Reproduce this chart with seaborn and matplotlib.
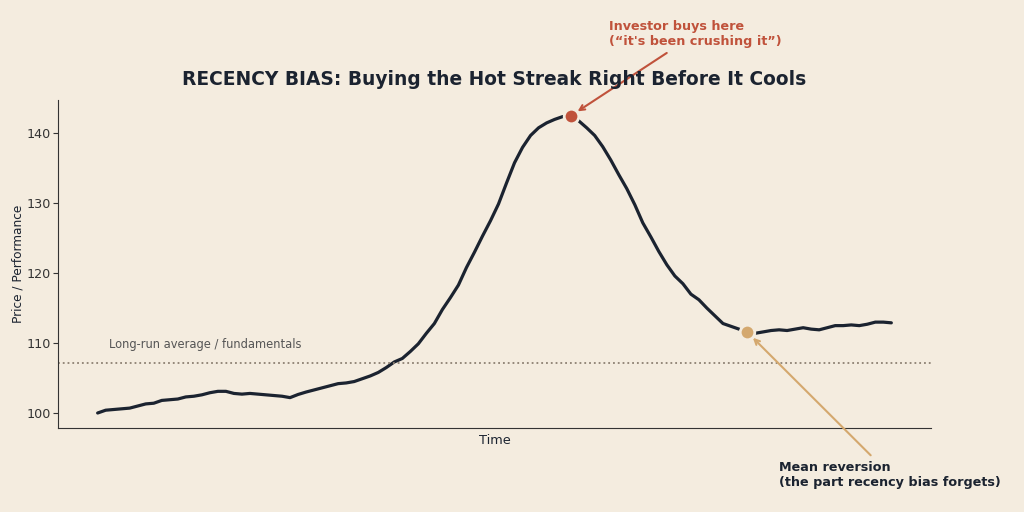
import pandas as pd
import seaborn as sns
import matplotlib.pyplot as plt

# price path (one value per time step)
price = [
    100.0, 100.4, 100.5, 100.6, 100.7, 101.0, 101.3, 101.4, 101.8, 101.9,
    102.0, 102.3, 102.4, 102.6, 102.9, 103.1, 103.1, 102.8, 102.7, 102.8,
    102.7, 102.6, 102.5, 102.4, 102.2, 102.65, 103.0, 103.3, 103.6, 103.9,
    104.2, 104.3, 104.5, 104.9, 105.3, 105.8, 106.5, 107.3, 107.8, 108.8,
    109.9, 111.4, 112.8, 114.8, 116.5, 118.3, 120.8, 123.0, 125.3, 127.5,
    129.9, 132.9, 135.8, 138.0, 139.7, 140.8, 141.5, 142.0, 142.4, 142.5,
    141.8, 140.8, 139.7, 138.1, 136.2, 134.1, 132.1, 129.8, 127.2, 125.2,
    123.1, 121.2, 119.6, 118.5, 117.0, 116.2, 115.0, 113.9, 112.8, 112.4,
    112.0, 111.6, 111.4, 111.6, 111.8, 111.9, 111.8, 112.0, 112.2, 112.0,
    111.9, 112.2, 112.5, 112.5, 112.6, 112.5, 112.7, 113.0, 113.0, 112.9,
]
time = list(range(len(price)))
long_run_avg = 107.2
buy_idx = 59
reversion_idx = 81

bg = "#f4ecdf"
ink = "#1b2330"
red = "#c0523b"
tan = "#d4a86e"

sns.set_style("ticks")
plt.rcParams["font.family"] = ["DejaVu Sans"]

df = pd.DataFrame({"Time": time, "Price": price})

fig = plt.figure(figsize=(10.24, 5.12), dpi=100, facecolor=bg)
ax = fig.add_axes([0.0566, 0.164, 0.8526, 0.641])
ax.set_facecolor(bg)

sns.lineplot(data=df, x="Time", y="Price", color=ink, linewidth=2.3, ax=ax)

# long-run average
ax.axhline(long_run_avg, color="#8c8072", linestyle=":", linewidth=1.3)
ax.text(1.4, long_run_avg + 1.6, "Long-run average / fundamentals",
        fontsize=8.3, color="#555555", va="bottom")

# highlighted points
ax.scatter([time[buy_idx]], [price[buy_idx]], s=110, color=red,
           edgecolor=bg, linewidth=2, zorder=5)
ax.scatter([time[reversion_idx]], [price[reversion_idx]], s=110, color=tan,
           edgecolor=bg, linewidth=2, zorder=5)

ax.annotate("Investor buys here\n(“it's been crushing it”)",
            xy=(time[buy_idx], price[buy_idx]), xytext=(63.8, 156.2),
            ha="left", va="top", fontsize=9.2, fontweight="bold", color=red,
            arrowprops=dict(arrowstyle="->", color=red, lw=1.5,
                            shrinkA=2, shrinkB=6),
            annotation_clip=False)
ax.annotate("Mean reversion\n(the part recency bias forgets)",
            xy=(time[reversion_idx], price[reversion_idx]), xytext=(85.0, 93.2),
            ha="left", va="top", fontsize=9.2, fontweight="bold", color=ink,
            arrowprops=dict(arrowstyle="->", color=tan, lw=1.5,
                            shrinkA=2, shrinkB=6),
            annotation_clip=False)

ax.set_title("RECENCY BIAS: Buying the Hot Streak Right Before It Cools",
             fontsize=13.4, fontweight="bold", color=ink, pad=11)
ax.set_xlabel("Time", fontsize=9.3, color=ink, labelpad=4)
ax.set_ylabel("Price / Performance", fontsize=8.7, color=ink, labelpad=1.5)
ax.set_xticks([])
ax.set_yticks([100, 110, 120, 130, 140])
ax.tick_params(axis="y", labelsize=9.2, colors="#333333", length=3.5, pad=1.8)
ax.set_ylim(97.85, 144.8)
sns.despine(ax=ax)
for s in ["left", "bottom"]:
    ax.spines[s].set_color("#333333")

fig.savefig("out.png", dpi=100, facecolor=bg)
